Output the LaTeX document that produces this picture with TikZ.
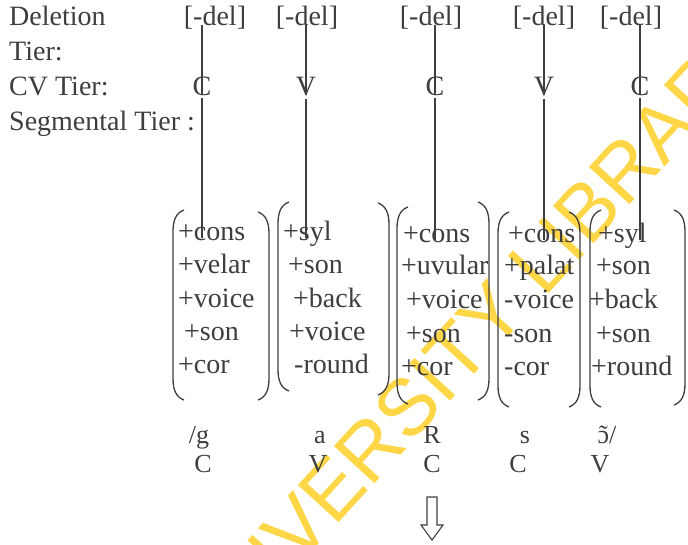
\documentclass[tikz,border=0pt]{standalone}
\usepackage{fontspec}
\setmainfont{Liberation Serif}
\newfontfamily\wmfont{Liberation Sans}
\definecolor{ink}{RGB}{62,62,62}
\definecolor{wm}{RGB}{255,214,70}
\newcommand\myLP[3]{\draw[paren] (#1+11,#2) .. controls (#1+3,#2+3) and (#1,#2+10) .. (#1,#2+22) -- (#1,#3-22) .. controls (#1,#3-10) and (#1+3,#3-3) .. (#1+11,#3);}
\newcommand\myRP[3]{\draw[paren] (#1-11,#2) .. controls (#1-3,#2+3) and (#1,#2+10) .. (#1,#2+22) -- (#1,#3-22) .. controls (#1,#3-10) and (#1-3,#3-3) .. (#1-11,#3);}
\newcommand\opentilde{\ooalign{ɔ\cr\hidewidth\raisebox{-0.05ex}{˜}\hidewidth}}
\begin{document}
\begin{tikzpicture}[x=1pt,y=-1pt,
  every node/.style={text=ink, inner sep=2pt},
  lab/.style={anchor=base west, font=\fontsize{28}{32}\selectfont},
  mid/.style={anchor=base, font=\fontsize{28}{32}\selectfont},
  cvn/.style={anchor=base, inner sep=3pt, font=\fontsize{28}{32}\selectfont},
  feat/.style={anchor=base west, inner sep=1pt, font=\fontsize{28}{32}\selectfont},
  bot/.style={anchor=base, font=\fontsize{26}{30}\selectfont},
  conn/.style={draw=ink, line width=1.1pt},
  paren/.style={draw=ink, line width=1.3pt}]
\useasboundingbox[fill=white] (0,0) rectangle (688,544);
% watermark
\node[rotate=47.5, inner sep=0pt, font=\wmfont\fontsize{80}{80}\selectfont, text=wm] (wmark) at (470,339) {UNIVERSITY LIBRARY};
% tier labels
\node[lab] (tDel) at (7,25) {Deletion};
\node[lab] (tTier) at (7,60) {Tier:};
\node[lab] (tCV) at (7,95) {CV Tier:};
\node[lab] (tSeg) at (7,130) {Segmental Tier :};
% deletion tier
\node[mid] (d1) at (215,25) {[-del]};
\node[mid] (d2) at (307,25) {[-del]};
\node[mid] (d3) at (431,25) {[-del]};
\node[mid] (d4) at (544,25) {[-del]};
\node[mid] (d5) at (631,25) {[-del]};
% CV tier
\node[cvn] (c1) at (202,95) {C};
\node[cvn] (c2) at (306,95) {V};
\node[cvn] (c3) at (435,95) {C};
\node[cvn] (c4) at (544,95) {V};
\node[cvn] (c5) at (640,95) {C};
% matrix 1
\node[feat] (f11) at (177,240) {+cons};
\node[feat] (f12) at (177,273) {+velar};
\node[feat] (f13) at (177,307) {+voice};
\node[feat] (f14) at (183,340) {+son};
\node[feat] (f15) at (177,373) {+cor};
% matrix 2
\node[feat] (f21) at (282,240) {+syl};
\node[feat] (f22) at (287,273) {+son};
\node[feat] (f23) at (292,307) {+back};
\node[feat] (f24) at (288,340) {+voice};
\node[feat] (f25) at (293,373) {-round};
% matrix 3
\node[feat] (f31) at (402,242) {+cons};
\node[feat] (f32) at (400,274) {+uvular};
\node[feat] (f33) at (405,308) {+voice};
\node[feat] (f34) at (405,342) {+son};
\node[feat] (f35) at (400,375) {+cor};
% matrix 4
\node[feat] (f41) at (507,242) {+cons};
\node[feat] (f42) at (503,274) {+palat};
\node[feat] (f43) at (503,308) {-voice};
\node[feat] (f44) at (503,342) {-son};
\node[feat] (f45) at (503,375) {-cor};
% matrix 5
\node[feat] (f51) at (597,242) {+syl};
\node[feat] (f52) at (595,274) {+son};
\node[feat] (f53) at (588,308) {+back};
\node[feat] (f54) at (595,342) {+son};
\node[feat] (f55) at (590,375) {+round};
% parentheses
\myLP{173}{210}{400}\myRP{269}{212}{400}
\myLP{278}{202}{391}\myRP{389}{203}{395}
\myLP{397}{207}{404}\myRP{489}{202}{400}
\myLP{498}{212}{407}\myRP{580}{212}{407}
\myLP{590}{210}{407}\myRP{685}{210}{405}
% association lines
\foreach \i in {1,...,5}{
  \draw[conn] (c\i |- d\i.base) -- (c\i.base);
  \draw[conn] (c\i.south) -- (c\i |- f\i1.mid);
}
% bottom rows
\node[bot] (s1) at (199,443) {/g};
\node[bot] (s2) at (320,443) {a};
\node[bot] (s3) at (432,443) {R};
\node[bot] (s4) at (525,443) {s};
\node[bot] (s5) at (607,443) {\opentilde/};
\node[bot] (k1) at (203,472) {C};
\node[bot] (k2) at (318,472) {V};
\node[bot] (k3) at (432,472) {C};
\node[bot] (k4) at (518,472) {C};
\node[bot] (k5) at (600,472) {V};
% hollow arrow
\coordinate (arr) at (432,497);
\draw[draw=ink, line width=1.1pt, line join=miter] ([xshift=-5pt]arr) -- ([xshift=5pt]arr) -- ([xshift=5pt,yshift=-28pt]arr) -- ([xshift=11pt,yshift=-28pt]arr) -- ([yshift=-43pt]arr) -- ([xshift=-11pt,yshift=-28pt]arr) -- ([xshift=-5pt,yshift=-28pt]arr) -- cycle;
\end{tikzpicture}
\end{document}
